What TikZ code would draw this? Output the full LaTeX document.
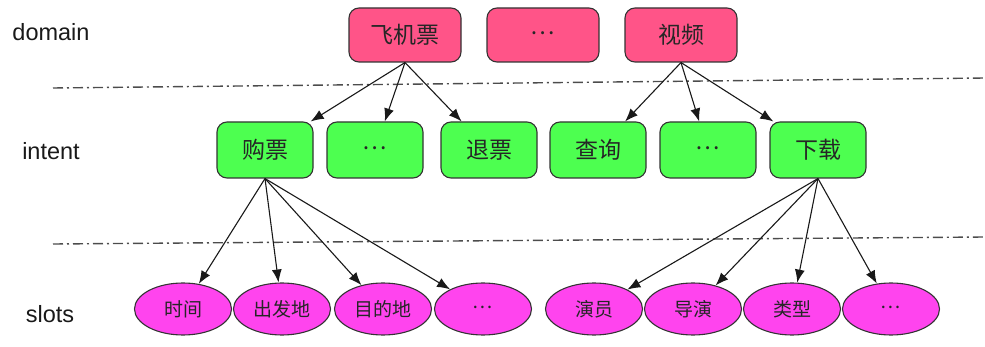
\documentclass[tikz,border=0pt]{standalone}
\usepackage{fontspec}
\setmainfont{Liberation Sans}
\newfontfamily\cjk{Noto Sans CJK SC}
\usetikzlibrary{shapes.geometric, arrows.meta}
\definecolor{domainpink}{RGB}{255,84,136}
\definecolor{intentgreen}{RGB}{77,255,80}
\definecolor{slotmagenta}{RGB}{255,68,238}
\tikzset{
  boxbase/.style={draw=black!80, line width=1.1pt, text=black!85, inner sep=0pt},
  domainbox/.style={boxbase, fill=domainpink, rounded corners=10pt, minimum width=112pt, minimum height=54pt, font=\cjk\fontsize{23}{27}\selectfont},
  intentbox/.style={boxbase, fill=intentgreen, rounded corners=10pt, minimum width=96pt, minimum height=56pt, font=\cjk\fontsize{23}{27}\selectfont},
  slotnode/.style={boxbase, ellipse, fill=slotmagenta, minimum width=97pt, minimum height=52pt, font=\cjk\fontsize{19}{23}\selectfont},
  tolevel/.style={-{Latex[length=13pt,width=10pt]}, line width=1.1pt, black!90},
  layerline/.style={dash pattern=on 10pt off 4pt on 2pt off 4pt, line width=1.4pt, black!70},
  levelname/.style={font=\fontsize{23.5}{28}\selectfont, text=black!90}
}
\newcommand{\mdots}{\raisebox{0.18em}{…}}
\begin{document}
\begin{tikzpicture}[x=1pt, y=-1pt]
\useasboundingbox (0,0) rectangle (985,347);
% level names
\node[levelname] (ldomain) at (51,32) {domain};
\node[levelname] (lintent) at (51,151) {intent};
\node[levelname] (lslots) at (50,314) {slots};
% separators
\draw[layerline] (53,88) -- (985,78);
\draw[layerline] (53,244) -- (985,237);
% domains
\node[domainbox] (plane) at (405,35) {飞机票};
\node[domainbox] (ddots) at (543,35) {\mdots};
\node[domainbox] (video) at (681,35) {视频};
% intents
\node[intentbox] (buy) at (265,150) {购票};
\node[intentbox] (idotsa) at (375,150) {\mdots};
\node[intentbox] (refund) at (489,150) {退票};
\node[intentbox] (query) at (598,150) {查询};
\node[intentbox] (idotsb) at (708,150) {\mdots};
\node[intentbox] (download) at (818,150) {下载};
% slots
\node[slotnode] (time) at (183,309) {时间};
\node[slotnode] (origin) at (282,309) {出发地};
\node[slotnode] (dest) at (383,309) {目的地};
\node[slotnode] (sdotsa) at (483,309) {\mdots};
\node[slotnode] (actor) at (594,309) {演员};
\node[slotnode] (director) at (693,309) {导演};
\node[slotnode] (genre) at (792,309) {类型};
\node[slotnode] (sdotsb) at (891,309) {\mdots};
% links
\foreach \t in {buy,idotsa,refund} \draw[tolevel] (plane.south) -- (\t);
\foreach \t in {query,idotsb,download} \draw[tolevel] (video.south) -- (\t);
\foreach \t in {time,origin,dest,sdotsa} \draw[tolevel] (buy.south) -- (\t);
\foreach \t in {actor,director,genre,sdotsb} \draw[tolevel] (download.south) -- (\t);
\end{tikzpicture}
\end{document}
